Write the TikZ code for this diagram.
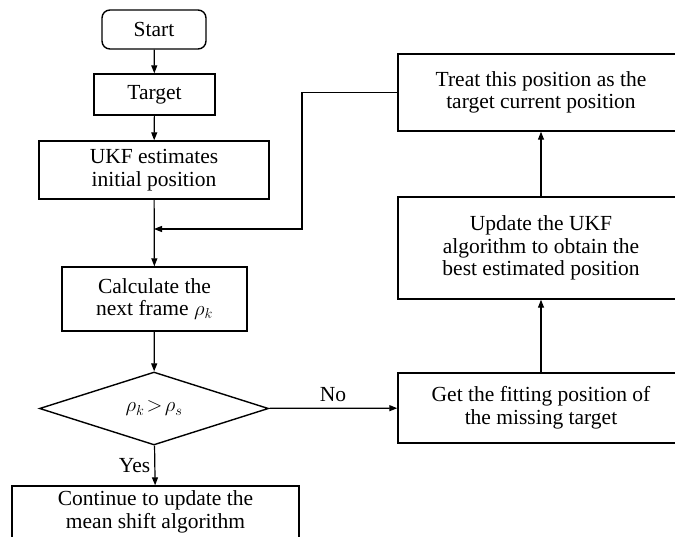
\documentclass[tikz,border=0pt]{standalone}
\usepackage{fontspec}
\setmainfont{Liberation Serif}
\usetikzlibrary{arrows.meta,shapes.geometric}
\tikzset{
  box/.style={draw, line width=1.4pt, rectangle, inner sep=0pt, align=center,
    font=\fontsize{21.5}{22.5}\selectfont},
  flow/.style={line width=1.2pt, -{Triangle[length=8pt,width=6pt]}},
  lbl/.style={font=\fontsize{21.5}{22.5}\selectfont, inner sep=0pt}
}
\begin{document}
\begin{tikzpicture}[x=1pt,y=-1pt]
\useasboundingbox (0,0) rectangle (675,537);
\clip (0,0) rectangle (675,537);
\fill[white] (0,0) rectangle (675,537);
\node[box, rounded corners=8pt, minimum width=104pt, minimum height=39pt] (start) at (154,29.5) {Start};
\node[box, minimum width=121pt, minimum height=41pt] (target) at (154.5,94.5) {Target};
\node[box, minimum width=230pt, minimum height=58pt] (ukf) at (154,170) {UKF estimates\\initial position};
\node[box, minimum width=185pt, minimum height=64pt] (calc) at (154.5,299) {Calculate the\\next frame $\rho_k$};
\node[box, diamond, aspect=3, minimum width=229pt, minimum height=73pt] (dec) at (154,408.5) {$\rho_k\!>\!\rho_s$};
\node[box, minimum width=287pt, minimum height=52pt] (cont) at (155.5,512) {Continue to update the\\mean shift algorithm};
\node[box, minimum width=286pt, minimum height=77pt] (treat) at (541,92.5) {Treat this position as the\\target current position};
\node[box, minimum width=286pt, minimum height=102pt] (upd) at (541,248) {Update the UKF\\algorithm to obtain the\\best estimated position};
\node[box, minimum width=286pt, minimum height=70pt] (get) at (541,408) {Get the fitting position of\\the missing target};
\coordinate (join) at (154,229);
\coordinate (bend) at (302,92.5);
\draw[flow] (start) -- (target);
\draw[flow] (target) -- (ukf);
\draw[flow] (ukf) -- (calc);
\draw[flow] (calc) -- (dec);
\draw[flow] (dec) -- node[lbl, left=4pt] {Yes} (cont);
\draw[flow] (dec) -- node[lbl, above=6pt] {No} (get);
\draw[flow] (get) -- (upd);
\draw[flow] (upd) -- (treat);
\draw[flow] (treat.west) -- (bend) |- (join);
\end{tikzpicture}
\end{document}
